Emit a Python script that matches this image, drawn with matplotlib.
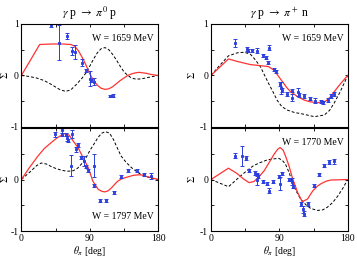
import matplotlib
matplotlib.use("Agg")
import matplotlib.pyplot as plt

plt.rcParams['font.family'] = ['Liberation Serif', 'DejaVu Serif']
plt.rcParams['mathtext.fontset'] = 'stix'

# ---------------- data ----------------
# top-left: gamma p -> pi0 p, W = 1659 MeV
tl_red_x = [0, 24, 40, 55, 65, 70, 75, 80, 85, 90, 95, 100, 105, 110, 115, 120, 125, 130, 135, 140, 145, 150, 155, 160, 165, 170, 180]
tl_red_y = [0, 0.60, 0.61, 0.61, 0.60, 0.57, 0.48, 0.35, 0.20, 0.03, -0.10, -0.19, -0.25, -0.27, -0.26, -0.22, -0.16, -0.10, -0.05, 0.0, 0.03, 0.05, 0.06, 0.05, 0.04, 0.02, 0.0]
tl_dash_x = [0, 10, 20, 30, 40, 50, 58, 65, 72, 80, 85, 90, 95, 100, 105, 110, 115, 120, 125, 130, 135, 140, 145, 150, 155, 160, 170, 180]
tl_dash_y = [0, -0.02, -0.05, -0.10, -0.18, -0.27, -0.31, -0.28, -0.18, -0.05, 0.05, 0.18, 0.32, 0.44, 0.52, 0.54, 0.50, 0.41, 0.30, 0.18, 0.07, 0.0, -0.05, -0.07, -0.07, -0.06, -0.03, 0.0]
tl_pts_x = [39.5, 50, 60.5, 66, 70, 80, 85.5, 90, 91, 96, 116, 121]
tl_pts_y = [0.98, 0.63, 0.77, 0.48, 0.46, 0.25, 0.10, -0.06, -0.09, -0.12, -0.40, -0.39]
tl_pts_e = [0.04, 0.34, 0.06, 0.08, 0.14, 0.07, 0.03, 0.15, 0.03, 0.07, 0.02, 0.02]

# top-right: gamma p -> pi+ n, W = 1659 MeV
tr_red_x = [0, 23, 35, 52, 65, 76, 83, 88, 94, 100, 105, 115, 123, 130, 140, 151, 157, 162, 170, 180]
tr_red_y = [0, 0.32, 0.27, 0.21, 0.19, 0.17, 0.10, 0.0, -0.12, -0.24, -0.32, -0.42, -0.48, -0.51, -0.53, -0.50, -0.42, -0.32, -0.17, 0]
tr_dash_x = [0, 10, 23, 35, 44, 52, 58, 65, 70, 76, 82, 87, 93, 100, 110, 118, 127, 136, 149, 156, 162, 170, 180]
tr_dash_y = [0, 0.17, 0.38, 0.44, 0.45, 0.41, 0.31, 0.17, 0.02, -0.16, -0.33, -0.48, -0.60, -0.67, -0.72, -0.74, -0.77, -0.80, -0.77, -0.68, -0.54, -0.32, 0]
tr_pts_x = [31, 47, 48.5, 54, 61, 69, 72, 76, 75, 83, 85.5, 91, 92, 93, 100, 106, 107, 115, 116, 123, 130.5, 137, 145, 147, 153.5, 158, 161.5]
tr_pts_y = [0.63, 0.52, 0.48, 0.49, 0.48, 0.39, 0.34, 0.54, 0.25, 0.12, 0.08, -0.17, -0.25, -0.28, -0.36, -0.30, -0.43, -0.32, -0.38, -0.40, -0.45, -0.49, -0.50, -0.52, -0.48, -0.40, -0.36]
tr_pts_e = [0.07, 0.04, 0.03, 0.03, 0.05, 0.03, 0.03, 0.05, 0.03, 0.03, 0.03, 0.04, 0.12, 0.04, 0.03, 0.03, 0.07, 0.07, 0.04, 0.03, 0.03, 0.05, 0.03, 0.03, 0.04, 0.04, 0.04]

# bottom-left: gamma p -> pi0 p, W = 1797 MeV
bl_red_x = [0, 10, 22, 30, 39.5, 48, 57, 61, 64, 68, 74.5, 81, 88, 94, 101, 106, 110, 114, 118, 123, 127, 133, 140, 147, 153.5, 158, 162, 170, 180]
bl_red_y = [0, 0.22, 0.46, 0.60, 0.72, 0.82, 0.89, 0.88, 0.84, 0.75, 0.62, 0.43, 0.23, -0.03, -0.19, -0.23, -0.24, -0.22, -0.17, -0.09, -0.03, 0.02, 0.05, 0.08, 0.09, 0.09, 0.07, 0.04, 0]
bl_dash_x = [0, 13, 20, 26, 33, 39.5, 46, 53, 60, 68, 74, 79, 85, 90, 96, 101, 106, 110.5, 116, 121, 126, 131, 138, 145, 152, 158, 168, 180]
bl_dash_y = [0, 0.17, 0.27, 0.32, 0.30, 0.25, 0.21, 0.18, 0.16, 0.17, 0.22, 0.30, 0.42, 0.56, 0.70, 0.82, 0.90, 0.93, 0.90, 0.78, 0.62, 0.46, 0.33, 0.23, 0.15, 0.09, 0.04, 0]
bl_pts_x = [44.7, 53, 53.5, 59, 60.5, 61.5, 67, 71.5, 74, 65, 79, 83, 85.5, 88, 95.6, 95.6, 103, 112, 122, 131.5, 140, 152, 162, 171]
bl_pts_y = [0.88, 0.96, 0.87, 0.87, 0.80, 0.75, 0.88, 0.59, 0.67, 0.27, 0.43, 0.36, 0.25, 0.18, 0.27, -0.11, -0.41, -0.40, -0.25, 0.05, 0.18, 0.17, 0.10, 0.07]
bl_pts_e = [0.05, 0.06, 0.03, 0.03, 0.05, 0.03, 0.08, 0.05, 0.03, 0.20, 0.03, 0.10, 0.03, 0.03, 0.22, 0.03, 0.03, 0.03, 0.03, 0.03, 0.03, 0.03, 0.03, 0.06]

# bottom-right: gamma p -> pi+ n, W = 1770 MeV
br_red_x = [0, 23, 34, 42, 50, 56.5, 63, 70, 77, 83, 88, 91, 95, 98, 103, 107, 114, 120, 127, 134, 140, 145, 152, 158, 180]
br_red_y = [0, 0.22, 0.12, 0.02, -0.06, -0.04, 0.05, 0.17, 0.34, 0.49, 0.59, 0.62, 0.57, 0.46, 0.25, 0.04, -0.25, -0.43, -0.38, -0.22, -0.13, -0.08, -0.03, -0.01, 0]
br_dash_x = [0, 23, 30, 39, 48, 56, 65, 74, 82, 89.5, 94, 98, 103, 107, 112, 118, 125, 131, 140, 147, 153, 160, 167, 174, 180]
br_dash_y = [0, -0.14, -0.05, 0.07, 0.18, 0.27, 0.33, 0.38, 0.40, 0.41, 0.37, 0.30, 0.13, -0.06, -0.22, -0.38, -0.49, -0.56, -0.60, -0.59, -0.54, -0.45, -0.32, -0.16, 0]
br_pts_x = [31, 40.6, 46, 50, 58, 60, 61, 62, 69, 74, 76, 81, 89.5, 91, 94, 103, 106, 108.5, 119, 120.5, 122, 128, 135, 142.5, 149, 155.7, 162]
br_pts_y = [0.46, 0.46, 0.41, 0.17, 0.12, 0.10, 0.0, 0.05, -0.04, -0.08, -0.22, -0.04, 0.05, -0.08, 0.12, 0.0, -0.04, -0.14, -0.48, -0.58, -0.66, -0.47, -0.12, 0.10, 0.27, 0.34, 0.35]
br_pts_e = [0.05, 0.20, 0.04, 0.03, 0.04, 0.03, 0.10, 0.03, 0.03, 0.03, 0.05, 0.03, 0.03, 0.12, 0.03, 0.03, 0.07, 0.03, 0.04, 0.07, 0.04, 0.04, 0.03, 0.03, 0.03, 0.04, 0.04]

titles = [r"$\gamma$ p $\rightarrow$ $\pi^0$ p", r"$\gamma$ p $\rightarrow$ $\pi^+$ n"]
w_labels = [["W = 1659 MeV", "W = 1659 MeV"], ["W = 1797 MeV", "W = 1770 MeV"]]

panels = [
    [(tl_red_x, tl_red_y, tl_dash_x, tl_dash_y, tl_pts_x, tl_pts_y, tl_pts_e),
     (tr_red_x, tr_red_y, tr_dash_x, tr_dash_y, tr_pts_x, tr_pts_y, tr_pts_e)],
    [(bl_red_x, bl_red_y, bl_dash_x, bl_dash_y, bl_pts_x, bl_pts_y, bl_pts_e),
     (br_red_x, br_red_y, br_dash_x, br_dash_y, br_pts_x, br_pts_y, br_pts_e)],
]

fig = plt.figure(figsize=(3.57, 2.57), dpi=100)
lefts = [0.060, 0.591]
width = 0.383
bottoms = [0.506, 0.101]
height = 0.401
blue = '#2b3fe0'
red = '#ff3333'
ylab_x = [-0.085, -0.105]

for r in range(2):
    for c in range(2):
        ax = fig.add_axes([lefts[c], bottoms[r], width, height])
        rx, ry, dx, dy, px, py, pe = panels[r][c]
        ax.plot(dx, dy, color='black', lw=0.7, ls=(0, (3, 2)))
        ax.plot(rx, ry, color=red, lw=0.9)
        ax.errorbar(px, py, yerr=pe, fmt='s', ms=1.6, mfc='none', mec=blue, mew=0.7,
                    color=blue, ecolor=blue, elinewidth=0.7, capsize=1.5, capthick=0.7)
        ax.set_xlim(0, 180)
        ax.set_ylim(-1, 1)
        ax.set_xticks([0, 45, 90, 135, 180])
        ax.set_yticks([-1, -0.5, 0, 0.5, 1])
        if r == 1:
            ax.set_xticklabels(['0', '', '90', '', '180'])
            ax.set_yticklabels(['-1', '', '0', '', ''])
            ax.set_xlabel(r"$\theta_\pi$ [deg]", fontsize=7, labelpad=1)
        else:
            ax.set_xticklabels([])
            ax.set_yticklabels(['-1', '', '0', '', '1'])
            ax.set_title(titles[c], fontsize=8.5, pad=5)
        ax.tick_params(direction='in', top=True, right=True, length=2.5, width=0.6,
                       labelsize=7, pad=2)
        ax.set_ylabel(r"$\Sigma$", fontsize=7, rotation=90)
        ax.yaxis.set_label_coords(ylab_x[c], 0.5)
        for s in ax.spines.values():
            s.set_linewidth(0.8)
        ypos = 0.14 if (r == 1 and c == 0) else 0.86
        ax.text(0.97, ypos, w_labels[r][c], transform=ax.transAxes, ha='right',
                va='center', fontsize=7)

fig.savefig("out.png", dpi=100)
